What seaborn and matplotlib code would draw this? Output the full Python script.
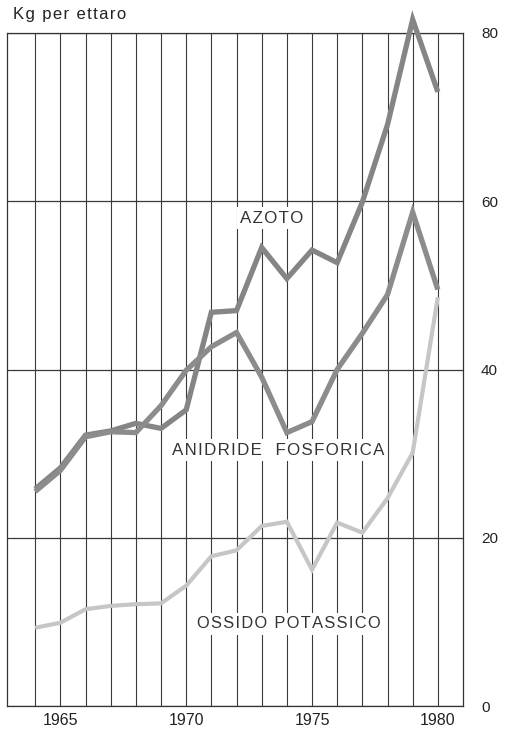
import matplotlib
matplotlib.use("Agg")
import matplotlib.pyplot as plt
from matplotlib.ticker import FixedLocator
import seaborn as sns
import pandas as pd

years = list(range(1964, 1981))
azoto = [25.8, 28.3, 32.2, 32.7, 33.6, 33.0, 35.2, 46.8, 47.0, 54.5, 50.8, 54.2, 52.7, 59.9, 69.1, 81.6, 73.0]
anidride_fosforica = [25.5, 28.0, 32.0, 32.6, 32.5, 35.7, 39.9, 42.7, 44.4, 39.1, 32.5, 33.8, 40.0, 44.3, 48.9, 58.7, 49.5]
ossido_potassico = [9.3, 9.9, 11.5, 11.9, 12.1, 12.2, 14.3, 17.8, 18.5, 21.4, 21.9, 16.2, 21.8, 20.6, 24.7, 30.1, 48.6]

series_names = ["AZOTO", "ANIDRIDE FOSFORICA", "OSSIDO POTASSICO"]
x_tick_labels = [1965, 1970, 1975, 1980]
y_ticks = [0, 20, 40, 60, 80]
unit_label = "Kg per ettaro"

df = pd.DataFrame({
    "anno": years * 3,
    "valore": azoto + anidride_fosforica + ossido_potassico,
    "serie": [series_names[0]] * len(years) + [series_names[1]] * len(years) + [series_names[2]] * len(years),
})

sns.set_style("white")
plt.rcParams["font.family"] = ["Liberation Sans", "DejaVu Sans"]

HAIR = "\u200a"


def tracked(s, n=1):
    return (HAIR * n).join(s)


fig = plt.figure(figsize=(5.08, 7.33), dpi=100)
ax = fig.add_axes([7 / 508, 27 / 733, 456 / 508, 673 / 733])

palette = {series_names[0]: "#858585", series_names[1]: "#8c8c8c", series_names[2]: "#c6c6c6"}
sizes = {series_names[0]: 3.8, series_names[1]: 3.8, series_names[2]: 3.0}
sns.lineplot(data=df, x="anno", y="valore", hue="serie", size="serie", sizes=sizes,
             palette=palette, legend=False, ax=ax, zorder=3, clip_on=False)
for ln in ax.lines:
    ln.set_solid_joinstyle("miter")
    ln.set_solid_capstyle("butt")

ax.set_xlim(1962.88, 1981.0)
ax.set_ylim(0, 80)

ax.xaxis.set_major_locator(FixedLocator(x_tick_labels))
ax.xaxis.set_minor_locator(FixedLocator(years))
ax.set_xticklabels([str(v) for v in x_tick_labels])
ax.yaxis.set_major_locator(FixedLocator(y_ticks))
ax.yaxis.tick_right()
ax.tick_params(axis="y", length=0, pad=13, labelsize=11, labelcolor="#222222")
ax.tick_params(axis="x", which="both", length=0, pad=5, labelsize=11.5, labelcolor="#222222")

ax.grid(True, which="both", axis="x", color="#3a3a3a", linewidth=0.8, zorder=1)
ax.grid(True, which="major", axis="y", color="#3a3a3a", linewidth=0.9, zorder=1)
ax.set_axisbelow(True)
for sp in ax.spines.values():
    sp.set_visible(True)
    sp.set_color("#333333")
    sp.set_linewidth(0.9)
ax.set_xlabel("")
ax.set_ylabel("")

label_pos = {series_names[0]: (1973.4, 58.0), series_names[1]: (1973.64, 30.4), series_names[2]: (1974.08, 9.75)}
label_text = {
    series_names[0]: tracked(series_names[0]),
    series_names[1]: tracked(series_names[1].replace(" ", "  ")),
    series_names[2]: tracked(series_names[2]),
}
label_size = {series_names[0]: 12.2, series_names[1]: 12.2, series_names[2]: 11.8}
for name in series_names:
    x, y = label_pos[name]
    ax.text(x, y, label_text[name], ha="center", va="center", fontsize=label_size[name],
            color="#333333", zorder=4, bbox=dict(facecolor="white", edgecolor="none", pad=2.5))

fig.text(13 / 508, 1 - 15 / 733, tracked(unit_label), ha="left", va="center",
         fontsize=12, color="#222222")

fig.savefig("out.png", dpi=100, facecolor="white")
